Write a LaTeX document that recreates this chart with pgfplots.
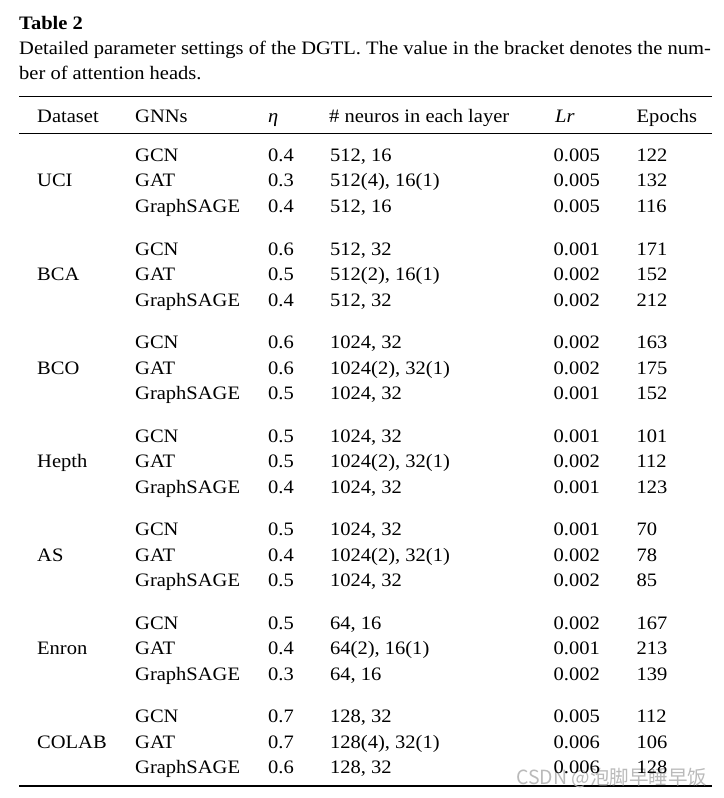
\documentclass[border=0pt]{standalone}
\usepackage{pgfplots}
\pgfplotsset{compat=1.18}
\usepackage{pgfplotstable}
\usepackage{fontspec}
\setmainfont{Liberation Serif}[FakeStretch=1.08]
\newfontfamily\cjk{Noto Sans CJK SC}
\newcommand\tsz{\fontsize{19bp}{22bp}\selectfont}

\pgfplotstableread[col sep=semicolon]{
y;gnn;eta;neu;lr;ep
161.5;GCN;0.4;512, 16;0.005;122
187.0;GAT;0.3;512(4), 16(1);0.005;132
212.5;GraphSAGE;0.4;512, 16;0.005;116
255.0;GCN;0.6;512, 32;0.001;171
280.5;GAT;0.5;512(2), 16(1);0.002;152
306.0;GraphSAGE;0.4;512, 32;0.002;212
348.5;GCN;0.6;1024, 32;0.002;163
374.0;GAT;0.6;1024(2), 32(1);0.002;175
399.5;GraphSAGE;0.5;1024, 32;0.001;152
442.0;GCN;0.5;1024, 32;0.001;101
467.5;GAT;0.5;1024(2), 32(1);0.002;112
493.0;GraphSAGE;0.4;1024, 32;0.001;123
535.5;GCN;0.5;1024, 32;0.001;70
561.0;GAT;0.4;1024(2), 32(1);0.002;78
586.5;GraphSAGE;0.5;1024, 32;0.002;85
629.0;GCN;0.5;64, 16;0.002;167
654.5;GAT;0.4;64(2), 16(1);0.001;213
680.0;GraphSAGE;0.3;64, 16;0.002;139
722.5;GCN;0.7;128, 32;0.005;112
748.0;GAT;0.7;128(4), 32(1);0.006;106
773.5;GraphSAGE;0.6;128, 32;0.006;128
}\tbl

\pgfplotstableread[col sep=semicolon]{
y;name
187.0;UCI
280.5;BCA
374.0;BCO
467.5;Hepth
561.0;AS
654.5;Enron
748.0;COLAB
}\dsets

\begin{document}
\begin{tikzpicture}
\begin{axis}[
  width=724bp, height=798bp, scale only axis,
  xmin=0, xmax=724, ymin=0, ymax=798, y dir=reverse,
  hide axis, clip=false,
  every node near coord/.append style={font=\tsz, anchor=base west, inner sep=0pt, text=black},
]
\draw[draw=none] (axis cs:0,0) rectangle (axis cs:724,798);

% rules
\addplot[black, line width=1.4bp, mark=none] coordinates {(19,96.5) (712,96.5)};
\addplot[black, line width=0.9bp, mark=none] coordinates {(19,133.3) (712,133.3)};
\addplot[black, line width=1.4bp, mark=none] coordinates {(19,786) (712,786)};

% title & caption
\node[anchor=base west, inner sep=0pt, font=\tsz\bfseries] at (axis cs:19,30) {Table 2};
\node[anchor=base west, inner sep=0pt, font=\tsz] at (axis cs:19,54.5) {Detailed parameter settings of the DGTL. The value in the bracket denotes the num-};
\node[anchor=base west, inner sep=0pt, font=\tsz] at (axis cs:19,79.5) {ber of attention heads.};

% header
\node[anchor=base west, inner sep=0pt, font=\tsz] at (axis cs:37,123) {Dataset};
\node[anchor=base west, inner sep=0pt, font=\tsz] at (axis cs:135,123) {GNNs};
\node[anchor=base west, inner sep=0pt, font=\tsz\itshape] at (axis cs:268,123) {η};
\node[anchor=base west, inner sep=0pt, font=\tsz] at (axis cs:329,123) {\# neuros in each layer};
\node[anchor=base west, inner sep=0pt, font=\tsz\itshape] at (axis cs:555,123) {Lr};
\node[anchor=base west, inner sep=0pt, font=\tsz] at (axis cs:636.5,123) {Epochs};

% body
\addplot[draw=none, mark=none, nodes near coords, point meta=explicit symbolic] table[x expr=37, y=y, meta=name] {\dsets};
\addplot[draw=none, mark=none, nodes near coords, point meta=explicit symbolic] table[x expr=135, y=y, meta=gnn] {\tbl};
\addplot[draw=none, mark=none, nodes near coords, point meta=explicit symbolic] table[x expr=268, y=y, meta=eta] {\tbl};
\addplot[draw=none, mark=none, nodes near coords, point meta=explicit symbolic] table[x expr=330, y=y, meta=neu] {\tbl};
\addplot[draw=none, mark=none, nodes near coords, point meta=explicit symbolic] table[x expr=553.5, y=y, meta=lr] {\tbl};
\addplot[draw=none, mark=none, nodes near coords, point meta=explicit symbolic] table[x expr=636.5, y=y, meta=ep] {\tbl};

% watermark
\node[anchor=base west, inner sep=0pt, font=\cjk\fontsize{19.5bp}{21bp}\selectfont, text=black!30, opacity=0.9] at (axis cs:516,784) {CSDN @泡脚早睡早饭};
\end{axis}
\end{tikzpicture}
\end{document}
